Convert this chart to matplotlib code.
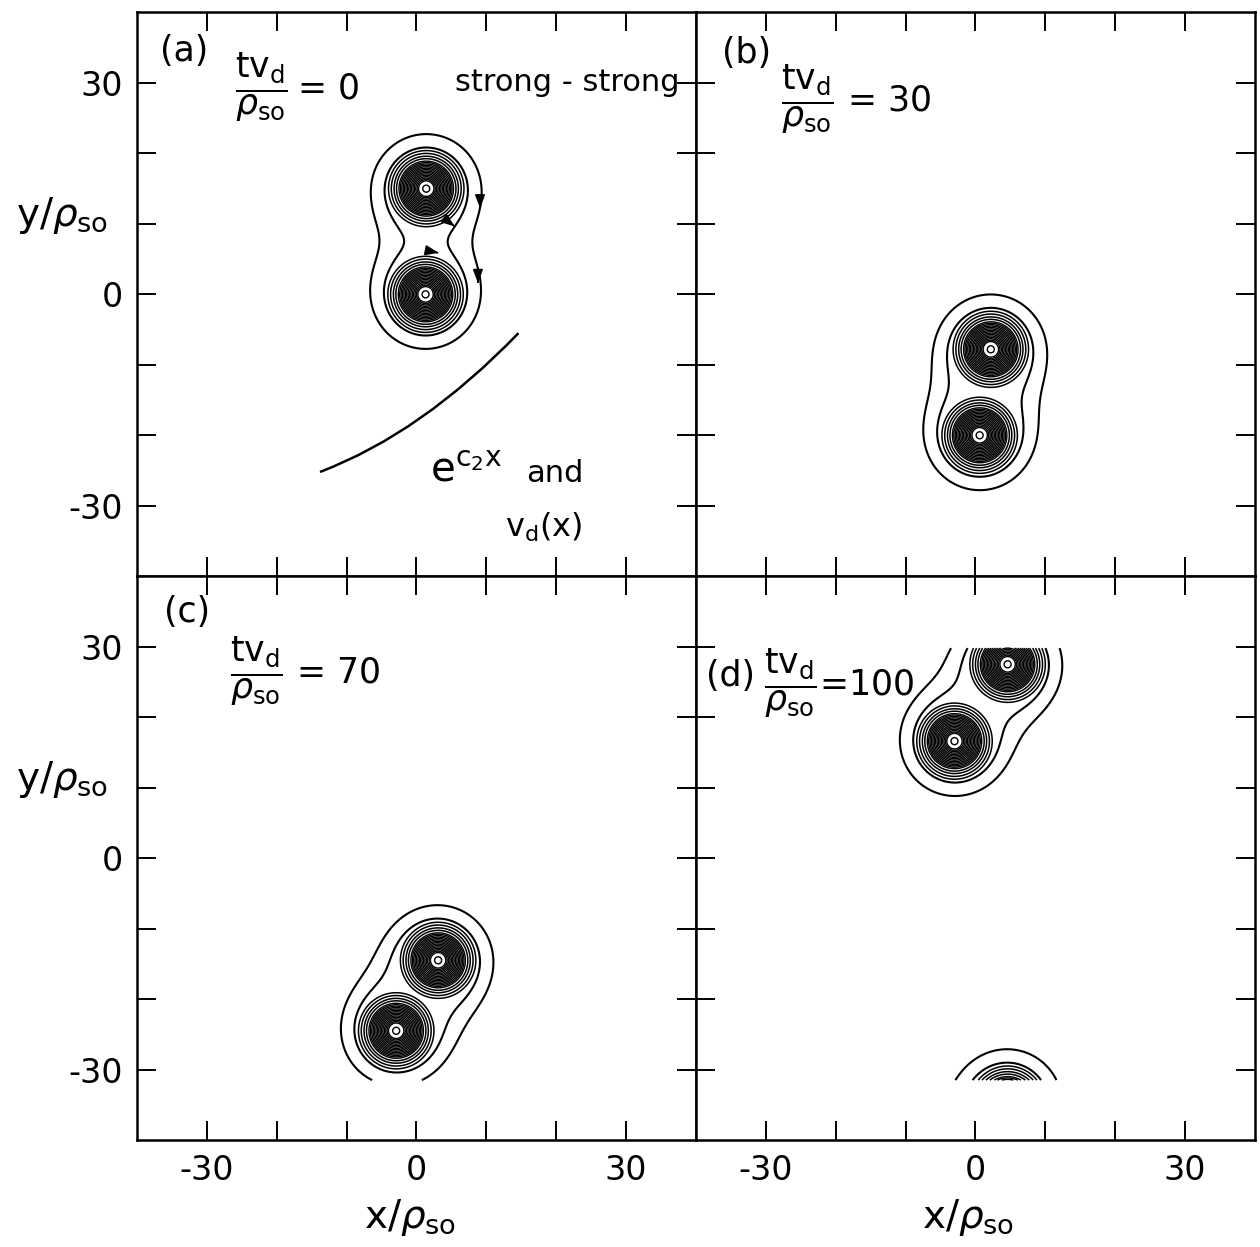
import numpy as np
import matplotlib.pyplot as plt
from matplotlib.path import Path
from matplotlib.patches import PathPatch

plt.rcParams['font.family'] = 'DejaVu Sans'
plt.rcParams['mathtext.fontset'] = 'dejavusans'

# panel labels and times t*v_d/rho_so
panel_tags = ['(a)', '(b)', '(c)', '(d)']
times = ['\u2009= 0', ' = 30', ' = 70', '=100']

# vortex centres (x/rho_so, y/rho_so)
vort_x = [[1.4, 1.3], [2.2, 0.6], [3.1, -2.9], [4.6, -3.0]]
vort_y = [[15.0, 0.0], [-7.8, -20.0], [-14.5, -24.5], [27.5, 16.6]]

# radii of the contours around one vortex: outer loops, rings, dense core
outer_r = [7.7, 5.8]
ring_r = [5.4, 5.0, 4.6, 4.25]
core_r = [3.9, 3.7, 3.5, 3.3, 3.1, 2.9, 2.7, 2.5, 2.3, 2.1, 1.9, 1.7, 1.5, 1.3, 1.1, 0.5]
decay = 3.35               # tail length of one vortex
y_lo, y_hi = -31.5, 29.8   # computed strip in y
period = 62.4

# label positions in data units
tag_xy = [(-33.2, 34.6), (-32.7, 34.2), (-32.9, 34.9), (-35.0, 25.8)]
frac_xy = [(-26.0, 29.4), (-27.8, 27.7), (-26.7, 26.5), (-30.3, 24.8)]

# flow arrows on the contours of panel (a)
arr_x = [9.1, 5.0, 2.6, 8.8]
arr_y = [12.8, 10.0, 6.0, 2.2]
arr_dx = [0.0, 0.8, 1.0, 0.0]
arr_dy = [-1.0, -0.6, -0.2, -1.0]

# e^{c2 x} profile sketch in panel (a): start, control, end
curve_x = [-13.8, 0.8, 14.6]
curve_y = [-25.2, -19.7, -5.5]

ticks = [-30, -20, -10, 0, 10, 20, 30]
tick_labels = ['-30', '', '', '0', '', '', '30']

fig, axes = plt.subplots(2, 2, figsize=(12.6, 12.47), dpi=100)
fig.subplots_adjust(left=0.1087, right=0.996, top=0.990, bottom=0.0858,
                    wspace=0, hspace=0)

gx = np.linspace(-40, 40, 801)
gy = np.linspace(y_lo, y_hi, 620)
X, Y = np.meshgrid(gx, gy)

outer_lv = np.sort(np.exp(-np.array(outer_r) / decay))
ring_lv = sorted(core_r + ring_r)
ring_lw = [1.1 if r in ring_r else 1.0 for r in ring_lv]

for k, ax in enumerate(axes.flat):
    Z = np.zeros_like(X)
    R = np.full_like(X, 1e3)
    for x0, y0 in zip(vort_x[k], vort_y[k]):
        for img in (-1, 0, 1):
            r = np.hypot(X - x0, Y - y0 - img * period)
            Z += np.exp(-r / decay)
            R = np.minimum(R, r)
    ax.contour(X, Y, Z, levels=outer_lv, colors='black', linewidths=1.5)
    ax.contour(X, Y, R, levels=ring_lv, colors='black', linewidths=ring_lw)

    ax.set_xlim(-40, 40)
    ax.set_ylim(-40, 40)
    ax.set_xticks(ticks)
    ax.set_yticks(ticks)
    ax.tick_params(direction='in', top=True, right=True, length=14, width=1.4,
                   labelsize=24, pad=10)
    ax.set_xticklabels(tick_labels if k >= 2 else [])
    ax.set_yticklabels(tick_labels if k % 2 == 0 else [])
    for s in ax.spines.values():
        s.set_linewidth(1.8)

    ax.text(*tag_xy[k], panel_tags[k], fontsize=25, ha='center', va='center')
    ax.text(*frac_xy[k],
            r'$\dfrac{\mathrm{tv}_\mathrm{d}}{\rho_\mathrm{so}}$' + times[k],
            fontsize=25, ha='left', va='center')

ax = axes[0, 0]
for x0, y0, dx, dy in zip(arr_x, arr_y, arr_dx, arr_dy):
    ax.annotate('', xy=(x0 + 0.6 * dx, y0 + 0.6 * dy), xytext=(x0, y0),
                arrowprops=dict(arrowstyle='-|>,head_length=0.8,head_width=0.3',
                                color='black', lw=1.2))
path = Path(list(zip(curve_x, curve_y)), [Path.MOVETO, Path.CURVE3, Path.CURVE3])
ax.add_patch(PathPatch(path, fill=False, lw=1.8, color='black'))
ax.text(21.6, 28.8, 'strong - strong', fontsize=22, ha='center', va='baseline')
ax.text(2.0, -26.6, r'$\mathrm{e}^{\mathrm{c}_2\mathrm{x}}$', fontsize=29,
        ha='left', va='baseline')
ax.text(15.7, -26.6, 'and', fontsize=22, ha='left', va='baseline')
ax.text(12.6, -34.4, r'$\mathrm{v}_\mathrm{d}\mathrm{(x)}$', fontsize=23,
        ha='left', va='baseline')

ylab = r'$\mathrm{y}/\rho_\mathrm{so}$'
xlab = r'$\mathrm{x}/\rho_\mathrm{so}$'
fig.text(62 / 1260, 1 - 215 / 1247, ylab, fontsize=28, ha='center', va='center')
fig.text(62 / 1260, 1 - 780 / 1247, ylab, fontsize=28, ha='center', va='center')
fig.text(410 / 1260, 1 - 1218 / 1247, xlab, fontsize=28, ha='center', va='center')
fig.text(968 / 1260, 1 - 1218 / 1247, xlab, fontsize=28, ha='center', va='center')

fig.savefig('out.png', dpi=100)
